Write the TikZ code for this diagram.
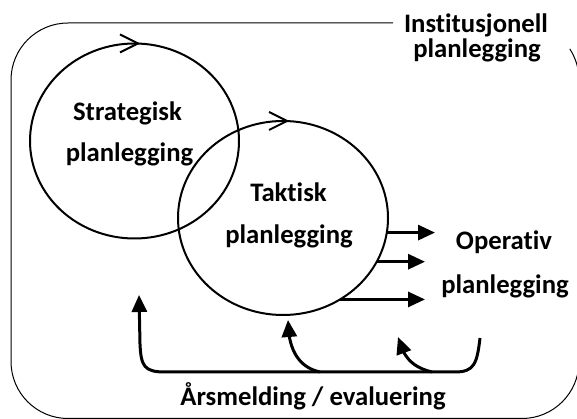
\documentclass[tikz,border=0pt]{standalone}
\usepackage{fontspec}
\setmainfont{Carlito}[Ligatures=NoCommon]
\usetikzlibrary{shapes.geometric,arrows.meta,bending}
\tikzset{
  lbl/.style={font=\bfseries\fontsize{26.7}{30}\selectfont, anchor=base, inner sep=0pt},
  ring/.style={ellipse, draw, line width=2pt, inner sep=0pt, outer sep=0pt, minimum width=209pt, minimum height=195pt},
  fat/.style={line width=3pt, -{Triangle[length=17pt,width=15pt]}},
  barb/.style={line width=2pt, line join=miter},
  frame/.style={line width=1pt}
}
\begin{document}
\begin{tikzpicture}[x=1pt,y=1pt]
\useasboundingbox (0,0) rectangle (577,419);
% outer frame
\draw[frame] (393,396) -- (68,396) arc[start angle=90,end angle=180,radius=57]
  -- (11,57.5) arc[start angle=180,end angle=270,radius=57]
  -- (522,0.5) arc[start angle=270,end angle=360,radius=57]
  -- (579,339) arc[start angle=0,end angle=33,radius=57];
% rings
\node[ring] (s) at (134.5,278) {};
\node[ring, minimum width=210pt, minimum height=194pt] (t) at (283,201) {};
\draw[barb] ([xshift=-14.5pt,yshift=9pt]s.north) -- ([xshift=3.5pt]s.north) -- ([xshift=-14.5pt,yshift=-9pt]s.north);
\draw[barb] ([xshift=-14pt,yshift=9pt]t.north) -- ([xshift=4pt]t.north) -- ([xshift=-14pt,yshift=-9pt]t.north);
% labels
\node[lbl] (s1) at (127.5,298) {Strategisk};
\node[lbl] (s2) at (129.5,257) {planlegging};
\node[lbl] (t1) at (288.5,217) {Taktisk};
\node[lbl] (t2) at (289,175) {planlegging};
\node[lbl] (o1) at (504,169) {Operativ};
\node[lbl] (o2) at (505,125.5) {planlegging};
\node[lbl] (i1) at (476,386) {Institusjonell};
\node[lbl] (i2) at (477,361) {planlegging};
\node[lbl] (e) at (313,13) {Årsmelding / evaluering};
% arrows to operative planning
\coordinate (p1) at (435,186);
\coordinate (p2) at (425,156);
\coordinate (p3) at (425,119);
\draw[fat] (t.-8.2) -- (t.-8.2 -| p1);
\draw[fat] (t.-25.8) -- (t.-25.8 -| p2);
\draw[fat] (t.-55.6) -- (t.-55.6 -| p3);
% feedback
\coordinate (fL) at (139,124);
\coordinate (fR) at (480,81);
\coordinate (m0) at (320,47);
\coordinate (m1) at (288,99);
\coordinate (r0) at (432,47);
\coordinate (r1) at (398,82);
\draw[fat] (fR) .. controls (477,55) and (474,47) .. (455,47) -- (165,47)
  .. controls (144,47) and (141,53) .. (140,75) -- (fL);
\draw[fat] (m0) .. controls (297,52) and (288,72) .. (m1);
\draw[fat] (r0) .. controls (411,52) and (403,63) .. (r1);
\end{tikzpicture}
\end{document}
